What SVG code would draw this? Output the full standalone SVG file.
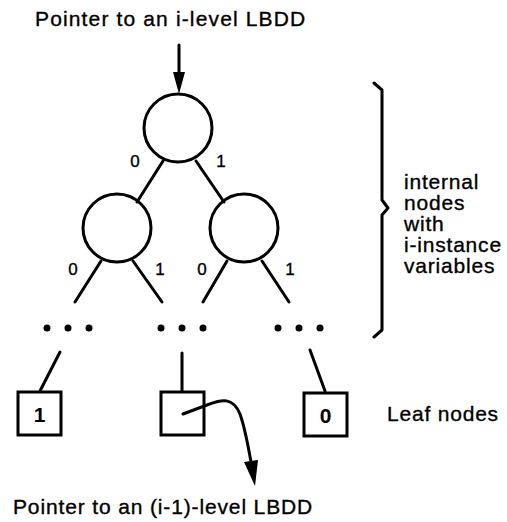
<svg xmlns="http://www.w3.org/2000/svg" width="507" height="522" viewBox="0 0 507 522">
  <style>
    .ln { fill: none; stroke: #000; stroke-width: 3; stroke-linecap: round; stroke-linejoin: round; }
    .node { fill: #fff; stroke: #000; stroke-width: 3; }
    .hollow { fill: none; stroke: #000; stroke-width: 3; }
    .txt { font-family: "Liberation Sans", Arial, sans-serif; font-size: 21px; fill: #000; stroke: #000; stroke-width: 0.35; letter-spacing: 0.8px; }
    .lbl { font-family: "Liberation Sans", Arial, sans-serif; font-size: 17px; fill: #000; stroke: #000; stroke-width: 0.35; text-anchor: middle; }
    .leaf { font-family: "Liberation Sans", Arial, sans-serif; font-size: 21px; font-weight: bold; fill: #000; text-anchor: middle; }
    .dot { fill: #000; }
  </style>
  <rect width="507" height="522" fill="#fff"/>

  <!-- captions -->
  <text class="txt" x="35" y="26" textLength="271" lengthAdjust="spacing">Pointer to an i-level LBDD</text>
  <text class="txt" x="13" y="514" textLength="300" lengthAdjust="spacing">Pointer to an (i-1)-level LBDD</text>
  <g id="internal-label">
    <path class="ln" d="M374,83 L382,90 L382,200 L388,208 L382,215 L382,330 L374,337"/>
    <text class="txt" x="404" y="189">internal</text>
    <text class="txt" x="404" y="210">nodes</text>
    <text class="txt" x="404" y="231">with</text>
    <text class="txt" x="404" y="252">i-instance</text>
    <text class="txt" x="404" y="273">variables</text>
  </g>
  <text class="txt" x="387" y="421">Leaf nodes</text>

  <!-- internal nodes -->
  <g id="root"><circle class="node" cx="178" cy="128" r="34"/></g>
  <g id="left"><circle class="node" cx="117" cy="228" r="34"/></g>
  <g id="right"><circle class="node" cx="244" cy="228" r="34"/></g>

  <!-- elided subtrees -->
  <g id="more-left">
    <circle class="dot" cx="47" cy="328" r="3.5"/>
    <circle class="dot" cx="68" cy="328" r="3.5"/>
    <circle class="dot" cx="89" cy="328" r="3.5"/>
  </g>
  <g id="more-mid">
    <circle class="dot" cx="161" cy="328" r="3.5"/>
    <circle class="dot" cx="182" cy="328" r="3.5"/>
    <circle class="dot" cx="203" cy="328" r="3.5"/>
  </g>
  <g id="more-right">
    <circle class="dot" cx="278" cy="328" r="3.5"/>
    <circle class="dot" cx="299" cy="328" r="3.5"/>
    <circle class="dot" cx="320" cy="328" r="3.5"/>
  </g>

  <!-- leaf nodes -->
  <g id="leaf-1">
    <rect class="node" x="18" y="392" width="43" height="43"/>
    <text class="leaf" x="39.5" y="421.5">1</text>
  </g>
  <g id="leaf-ptr">
    <rect class="hollow" x="161" y="392" width="43" height="43"/>
  </g>
  <g id="leaf-0">
    <rect class="node" x="304" y="393" width="43" height="43"/>
    <text class="leaf" x="325.5" y="422.5">0</text>
  </g>

  <!-- connectors -->
  <g id="connectors">
    <line class="ln" x1="179" y1="45" x2="179" y2="74"/>
    <polygon points="173,72 185,72 179,94" fill="#000"/>
    <line class="ln" x1="163" y1="161" x2="137" y2="202"/>
    <line class="ln" x1="196" y1="161" x2="224" y2="202"/>
    <line class="ln" x1="101" y1="261" x2="75" y2="302"/>
    <line class="ln" x1="133" y1="261" x2="162" y2="302"/>
    <line class="ln" x1="227" y1="261" x2="203" y2="302"/>
    <line class="ln" x1="262" y1="261" x2="289" y2="302"/>
    <line class="ln" x1="60" y1="352" x2="40" y2="391"/>
    <line class="ln" x1="182" y1="353" x2="182" y2="391"/>
    <line class="ln" x1="310" y1="350" x2="325" y2="391"/>
    <path class="ln" d="M183,414 L207,405 C222,399 233,397 240,414 C245,428 248,445 251,462"/>
    <polygon points="244,462 258,460 255,486" fill="#000"/>
    <text class="lbl" x="135" y="167">0</text>
    <text class="lbl" x="221" y="167">1</text>
    <text class="lbl" x="73" y="275">0</text>
    <text class="lbl" x="160" y="275">1</text>
    <text class="lbl" x="202" y="275">0</text>
    <text class="lbl" x="290" y="275">1</text>
  </g>
</svg>
